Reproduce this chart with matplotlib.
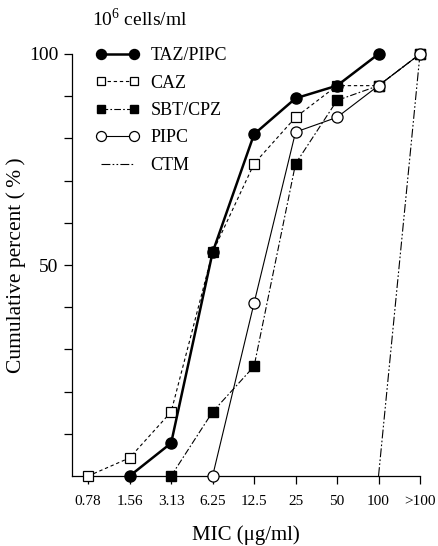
import numpy as np
import matplotlib
matplotlib.use("Agg")
import matplotlib.pyplot as plt

plt.rcParams['font.family'] = ['Liberation Serif', 'DejaVu Serif']
plt.rcParams['mathtext.fontset'] = 'custom'
plt.rcParams['mathtext.rm'] = 'Liberation Serif'

### data ###
mic_labels = ["0.78", "1.56", "3.13", "6.25", "12.5", "25", "50", "100", ">100"]

taz_x = [1, 2, 3, 4, 5, 6, 7]
taz_y = [0, 7.8, 53, 81, 89.5, 92.5, 100]

caz_x = [0, 1, 2, 3, 4, 5, 6, 7, 8]
caz_y = [0, 4.3, 15.2, 53, 74, 85, 92.5, 92.5, 100]

sbt_x = [2, 3, 4, 5, 6, 7, 8]
sbt_y = [0, 15.2, 26, 74, 89, 92.5, 100]

pipc_x = [3, 4, 5, 6, 7, 8]
pipc_y = [0, 41, 81.5, 85, 92.5, 100]

ctm_x = [7, 8]
ctm_y = [0, 100]

fig = plt.figure(figsize=(4.39, 5.46), dpi=100)
ax = fig.add_axes([72/439, 70/546, 348/439, 422/546])

ax.plot(ctm_x, ctm_y, color='black', lw=0.8, ls=(0, (8, 2, 1.5, 2, 1.5, 2)), label='CTM',
        zorder=2, clip_on=False)
ax.plot(sbt_x, sbt_y, color='black', lw=0.8, ls=(0, (6, 2, 1.5, 2)), marker='s', ms=7,
        mfc='black', mec='black', label='SBT/CPZ', zorder=3, clip_on=False)
ax.plot(caz_x, caz_y, color='black', lw=0.8, ls=(0, (3, 2.5)), marker='s', ms=7,
        mfc='white', mec='black', mew=0.9, label='CAZ', zorder=4, clip_on=False)
ax.plot(pipc_x, pipc_y, color='black', lw=0.8, ls='-', marker='o', ms=8,
        mfc='white', mec='black', mew=0.9, label='PIPC', zorder=5, clip_on=False)
ax.plot(taz_x, taz_y, color='black', lw=1.8, ls='-', marker='o', ms=8,
        mfc='black', mec='black', label='TAZ/PIPC', zorder=6, clip_on=False)

ax.set_xlim(-0.39, 8)
ax.set_ylim(0, 100)
ax.set_xticks(range(len(mic_labels)))
ax.set_xticklabels(mic_labels)
ax.set_yticks([50, 100])
ax.set_yticks(np.arange(10, 100, 10), minor=True)
ax.tick_params(axis='both', which='both', direction='out', length=6, width=0.9, labelsize=11)
ax.tick_params(axis='x', pad=8)
ax.tick_params(axis='y', which='major', labelsize=14, pad=4)
for s in ['top', 'right']:
    ax.spines[s].set_visible(False)
for s in ['left', 'bottom']:
    ax.spines[s].set_linewidth(0.9)

ax.set_xlabel('MIC (μg/ml)', fontsize=15, labelpad=12)
ax.set_ylabel('Cumulative percent (\u2009%\u2009)', fontsize=15.5, labelpad=2)
fig.text(92/439, 1 - 19/546, r'$10^6$ cells/ml', fontsize=14, va='center', ha='left')

handles, labels = ax.get_legend_handles_labels()
order = ['TAZ/PIPC', 'CAZ', 'SBT/CPZ', 'PIPC', 'CTM']
hmap = dict(zip(labels, handles))
leg = ax.legend([hmap[k] for k in order], order, loc='upper left',
                bbox_to_anchor=(0.02, 1.055), frameon=False, numpoints=2, markerscale=0.9,
                handlelength=2.45, handletextpad=0.6, labelspacing=0.58, fontsize=13)

fig.savefig('out.png', dpi=100)
